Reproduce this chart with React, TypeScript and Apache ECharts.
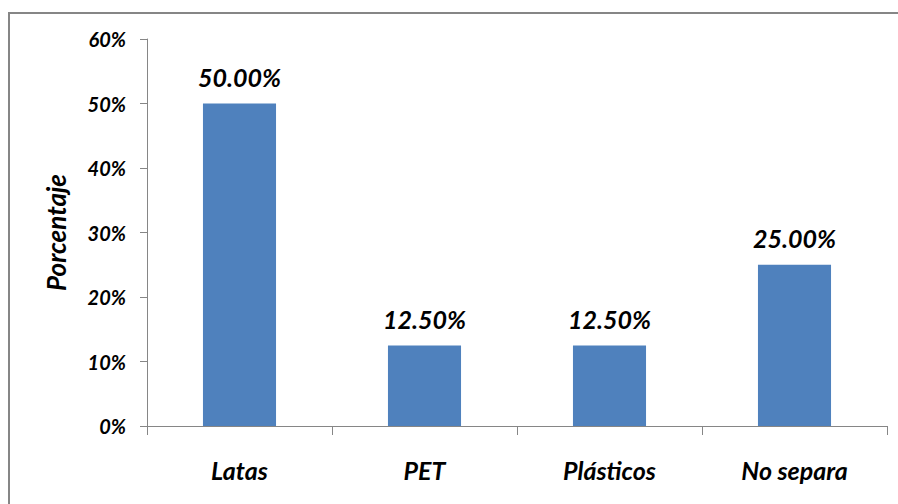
import React, { useEffect, useRef } from "react";
import * as echarts from "echarts";

const categories = ["Latas", "PET", "Plásticos", "No separa"];
const percentages = [50.0, 12.5, 12.5, 25.0];
const yTicks = [0, 10, 20, 30, 40, 50, 60];

const FONT = "Lato, 'Open Sans', sans-serif";

export default function App() {
  const ref = useRef<HTMLDivElement>(null);

  useEffect(() => {
    if (!ref.current) return;
    const chart = echarts.init(ref.current, undefined, { renderer: "svg" });
    chart.setOption({
      animation: false,
      backgroundColor: "#ffffff",
      graphic: [
        {
          type: "rect",
          shape: { x: 9, y: 13, width: 900, height: 500 },
          style: { fill: "none", stroke: "#868686", lineWidth: 2 },
          silent: true,
        },
      ],
      grid: { left: 147, right: 11, top: 39, bottom: 78 },
      xAxis: {
        type: "category",
        data: categories,
        axisLine: { lineStyle: { color: "#868686", width: 1 } },
        axisTick: { show: true, alignWithLabel: false, length: 9, lineStyle: { color: "#868686" } },
        axisLabel: {
          margin: 31,
          fontFamily: FONT,
          fontSize: 25,
          fontWeight: "bold",
          fontStyle: "italic",
          color: "#000000",
        },
      },
      yAxis: {
        type: "value",
        min: yTicks[0],
        max: yTicks[yTicks.length - 1],
        interval: 10,
        name: "Porcentaje",
        nameLocation: "middle",
        nameGap: 78,
        nameRotate: 90,
        nameTextStyle: {
          fontFamily: FONT,
          fontSize: 26,
          fontWeight: "bold",
          fontStyle: "italic",
          color: "#000000",
        },
        axisLine: { show: true, lineStyle: { color: "#868686", width: 1 } },
        axisTick: { show: true, length: 7, lineStyle: { color: "#868686" } },
        splitLine: { show: false },
        axisLabel: {
          margin: 21,
          formatter: (v: number) => `${v}%`,
          fontFamily: FONT,
          fontSize: 20,
          fontWeight: "bold",
          fontStyle: "italic",
          color: "#000000",
        },
      },
      series: [
        {
          type: "bar",
          data: percentages,
          barWidth: "39.5%",
          itemStyle: { color: "#4F81BD" },
          label: {
            show: true,
            position: "top",
            distance: 14,
            formatter: (p: any) => `${Number(p.value).toFixed(2)}%`,
            fontFamily: FONT,
            fontSize: 25,
            fontWeight: "bold",
            fontStyle: "italic",
            color: "#000000",
          },
        },
      ],
    });
    return () => chart.dispose();
  }, []);

  return (
    <div
      ref={ref}
      style={{ position: "fixed", left: 0, top: 0, width: 898, height: 504 }}
    />
  );
}
